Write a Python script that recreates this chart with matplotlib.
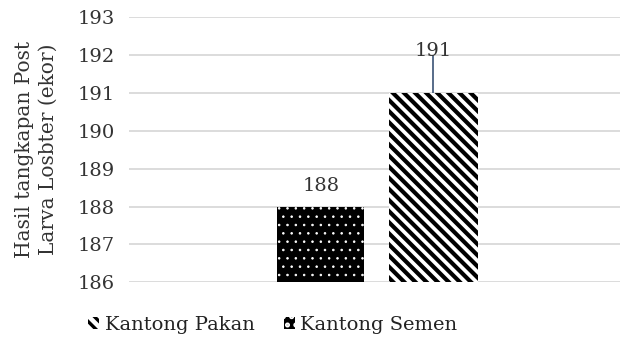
import matplotlib
matplotlib.use('Agg')
import matplotlib.pyplot as plt
from matplotlib.patches import Patch

plt.rcParams['font.family'] = 'DejaVu Serif'
plt.rcParams['hatch.linewidth'] = 2.4

# data
series = ['Kantong Semen', 'Kantong Pakan']
values = [188, 191]
err_up = [0, 1.0]
offsets = [-0.26, 0.26]

fig = plt.figure(figsize=(6.23, 3.45), dpi=100)
ax = fig.add_axes([0.207, 0.182, 0.788, 0.768])

# gridlines under the bars
ax.set_ylim(186, 193)
ax.set_yticks(range(186, 194))
ax.grid(axis='y', color='#d9d9d9', linewidth=1.3, zorder=0)
ax.set_axisbelow(True)

# left bar: black with small white dots
b1 = ax.bar(offsets[0], values[0] - 186, bottom=186, width=0.4, color='black',
            edgecolor='white', linewidth=0, hatch='..', hatch_linewidth=0.6,
            zorder=2)
# right bar: white with thick black diagonal stripes
b2 = ax.bar(offsets[1], values[1] - 186, bottom=186, width=0.41, color='white',
            edgecolor='black', linewidth=0, hatch='\\\\\\', hatch_linewidth=3.0,
            zorder=2)

# single upper error line on the right bar
ax.errorbar(offsets[1], values[1], yerr=[[0], [err_up[1]]], fmt='none',
            ecolor='#4a6080', elinewidth=1.3, capsize=0, zorder=3)

ax.text(offsets[0], values[0] + 0.55, str(values[0]), ha='center', va='center',
        fontsize=14, color='#333333')
ax.text(offsets[1], values[1] + err_up[1] + 0.12, str(values[1]), ha='center',
        va='center', fontsize=14, color='#333333')

ax.set_xlim(-1.145, 1.12)
ax.set_xticks([])
for s in ax.spines.values():
    s.set_visible(False)
ax.tick_params(axis='y', length=0, labelsize=14, labelcolor='#333333', pad=10)

ax.set_ylabel('Hasil tangkapan Post\nLarva Losbter (ekor)', fontsize=14.5,
              color='#333333', linespacing=1.35)
ax.yaxis.set_label_coords(-0.145, 0.5)

handles = [Patch(facecolor='white', edgecolor='black', hatch='\\\\\\', linewidth=0),
           Patch(facecolor='black', edgecolor='white', hatch='..', linewidth=0)]
fig.legend(handles, ['Kantong Pakan', 'Kantong Semen'], loc='center',
           bbox_to_anchor=(273 / 623, 20 / 345), ncol=2, frameon=False,
           fontsize=14, handlelength=0.55, handleheight=0.55, handletextpad=0.3,
           columnspacing=1.5, labelcolor='#222222')

fig.savefig('out.png', dpi=100)
